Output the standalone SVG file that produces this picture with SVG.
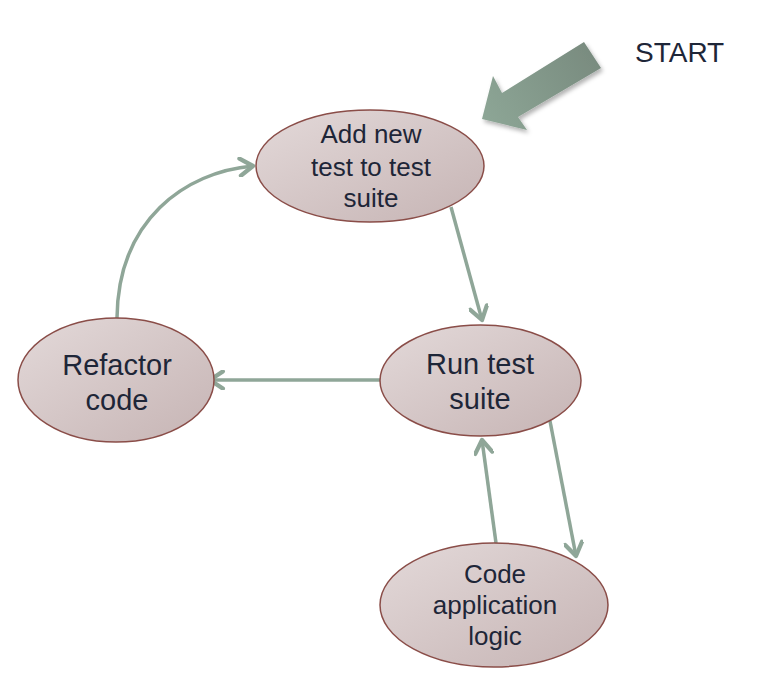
<svg xmlns="http://www.w3.org/2000/svg" width="772" height="686" viewBox="0 0 772 686">
<defs>
<linearGradient id="nodeFill" x1="0" y1="0" x2="1" y2="1">
<stop offset="0" stop-color="#e3d9d9"/>
<stop offset="1" stop-color="#c6b4b4"/>
</linearGradient>
<linearGradient id="startFill" x1="482" y1="119" x2="600" y2="50" gradientUnits="userSpaceOnUse">
<stop offset="0" stop-color="#8da696"/>
<stop offset="1" stop-color="#788a7e"/>
</linearGradient>
<filter id="shadow" x="-20%" y="-20%" width="150%" height="150%">
<feDropShadow dx="2" dy="3" stdDeviation="2" flood-color="#000" flood-opacity="0.3"/>
</filter>
<marker id="arrow" markerUnits="userSpaceOnUse" markerWidth="20" markerHeight="20" refX="11" refY="7" orient="auto" viewBox="0 0 14 14">
<path d="M2,1 L11,7 L2,13" fill="none" stroke="#8fa698" stroke-width="3" stroke-linecap="round" stroke-linejoin="round"/>
</marker>
</defs>
<style>
.node ellipse { fill: url(#nodeFill); stroke: #8a4d48; stroke-width: 1.5; }
.node text { font-family: "Liberation Sans", Arial, sans-serif; fill: #1e2638; text-anchor: middle; }
.conn { fill: none; stroke: #8fa698; stroke-width: 3.5; marker-end: url(#arrow); }
.label { font-family: "Liberation Sans", Arial, sans-serif; fill: #1e2638; font-size: 28px; }
</style>
<rect width="772" height="686" fill="#ffffff"/>
<g id="start">
<polygon points="482,119 493,76 502,93 584,42 601,68 518,117 527,130" fill="url(#startFill)" filter="url(#shadow)"/>
<text class="label" x="635" y="62">START</text>
</g>
<g id="connectors">
<path class="conn" d="M451,207 L482,320"/>
<path class="conn" d="M388,380 L210,380"/>
<path class="conn" d="M550,421 L576,556"/>
<path class="conn" d="M496,543 L482,440"/>
<path class="conn" d="M117,318 C118,220 185,172 253,166"/>
</g>
<g id="node-add" class="node">
<ellipse cx="370" cy="166" rx="114" ry="56"/>
<text font-size="26" x="371" y="143">Add new</text>
<text font-size="26" x="371" y="176">test to test</text>
<text font-size="26" x="371" y="207">suite</text>
</g>
<g id="node-refactor" class="node">
<ellipse cx="116" cy="380" rx="98" ry="62"/>
<text font-size="29" x="117" y="375">Refactor</text>
<text font-size="29" x="117" y="410">code</text>
</g>
<g id="node-run" class="node">
<ellipse cx="480.5" cy="380.5" rx="100.5" ry="55.5"/>
<text font-size="29" x="480" y="374">Run test</text>
<text font-size="29" x="480" y="409">suite</text>
</g>
<g id="node-code" class="node">
<ellipse cx="494" cy="605" rx="114" ry="62"/>
<text font-size="26" x="495" y="583">Code</text>
<text font-size="26" x="495" y="614">application</text>
<text font-size="26" x="495" y="645">logic</text>
</g>
</svg>
